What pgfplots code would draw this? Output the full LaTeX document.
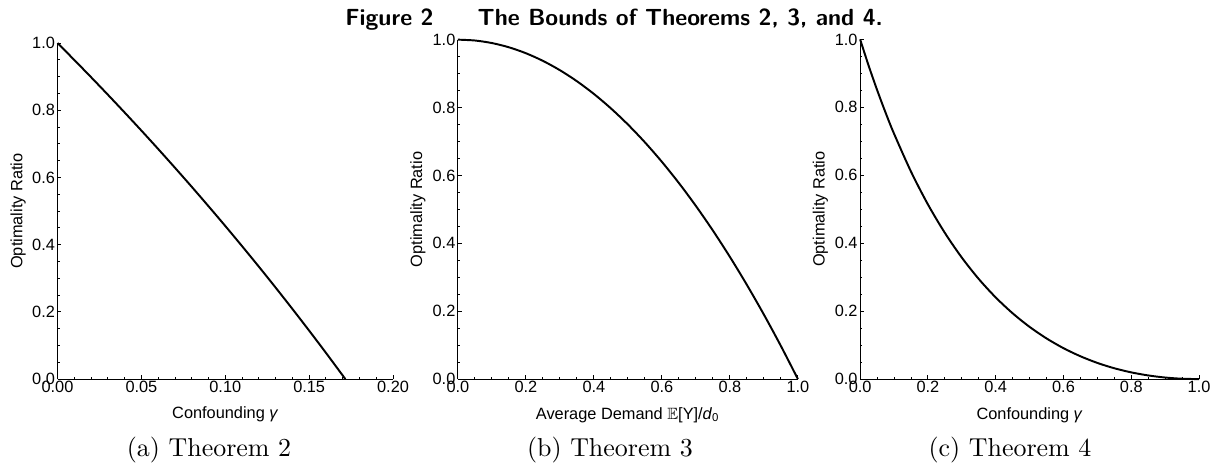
\documentclass[border=0pt]{standalone}
\usepackage{fontspec}
\usepackage{amssymb}
\usepackage{pgfplots}
\pgfplotsset{compat=1.18}
\newfontfamily\arial{Liberation Sans}

\pgfplotstableread{
x y
0 1
0.01 0.9496
0.02 0.8984
0.03 0.8463
0.04 0.7933
0.05 0.7395
0.06 0.6847
0.07 0.6289
0.08 0.5722
0.09 0.5144
0.10 0.4556
0.11 0.3956
0.12 0.3346
0.13 0.2723
0.14 0.2088
0.15 0.1441
0.16 0.0781
0.17 0.0107
0.1716 0
}\thmA

\pgfplotstableread{
x y
0 1
0.05 0.9975
0.10 0.99
0.15 0.9775
0.20 0.96
0.25 0.9375
0.30 0.91
0.35 0.8775
0.40 0.84
0.45 0.7975
0.50 0.75
0.55 0.6975
0.60 0.64
0.65 0.5775
0.70 0.51
0.75 0.4375
0.80 0.36
0.85 0.2775
0.90 0.19
0.95 0.0975
1.00 0
}\thmB

\pgfplotstableread{
x y
0 1
0.025 0.9229
0.05 0.8512
0.075 0.7845
0.10 0.7225
0.15 0.6109
0.20 0.5142
0.25 0.4304
0.30 0.3577
0.35 0.2947
0.40 0.2404
0.45 0.1937
0.50 0.1537
0.55 0.1197
0.60 0.0910
0.65 0.0672
0.70 0.0476
0.75 0.0319
0.80 0.0198
0.85 0.0108
0.90 0.0046
0.95 0.0011
1.00 0
}\thmC

\pgfplotsset{
  thm/.style={
    scale only axis,
    anchor=south west,
    clip=false,
    axis x line=bottom, axis y line=left,
    axis line style={-, line width=0.4pt},
    tick align=inside,
    major tick length=1.4pt, minor tick length=0.8pt,
    tick style={line width=0.35pt, black},
    ymin=0, ymax=1,
    ytick={0,0.2,0.4,0.6,0.8,1},
    minor y tick num=3,
    scaled ticks=false,
    /pgf/number format/assume math mode=true,
    tick label style={font=\arial\fontsize{6.3}{7}\selectfont},
    y tick label style={inner sep=0.8pt, /pgf/number format/.cd, fixed, fixed zerofill, precision=1, /tikz/.cd},
    x tick label style={inner sep=0.6pt},
    every axis x label/.style={at={(axis description cs:0.5,-0.106)}, anchor=center, font=\arial\fontsize{6.3}{7.5}\selectfont},
    every axis y label/.style={at={(axis description cs:-0.1175,0.5)}, anchor=center, rotate=90, font=\arial\fontsize{6.3}{7.5}\selectfont},
    ylabel={Optimality Ratio},
  },
  curve/.style={black, line width=0.75pt, smooth},
}

\begin{document}
\begin{tikzpicture}
\useasboundingbox (0,0) rectangle (469.7pt,178.2pt);

\begin{axis}[thm,
  at={(22.18pt,32.0pt)}, width=129.4pt, height=129.6pt,
  xmin=0, xmax=0.2,
  xtick={0,0.05,0.10,0.15,0.20}, minor x tick num=4,
  x tick label style={/pgf/number format/.cd, fixed, fixed zerofill, precision=2, /tikz/.cd},
  xlabel={Confounding \textit{γ}},
]
\addplot[curve] table[x=x,y=y]{\thmA};
\end{axis}

\begin{axis}[thm,
  at={(176.6pt,32.0pt)}, width=131.1pt, height=130.9pt,
  xmin=0, xmax=1,
  xtick={0,0.2,0.4,0.6,0.8,1}, minor x tick num=3,
  x tick label style={/pgf/number format/.cd, fixed, fixed zerofill, precision=1, /tikz/.cd},
  xlabel={Average Demand $\mathbb{E}$[Y]/\textit{d}\textsubscript{0}},
]
\addplot[curve] table[x=x,y=y]{\thmB};
\end{axis}

\begin{axis}[thm,
  at={(331.7pt,32.0pt)}, width=130.7pt, height=131.0pt,
  xmin=0, xmax=1,
  xtick={0,0.2,0.4,0.6,0.8,1}, minor x tick num=3,
  x tick label style={/pgf/number format/.cd, fixed, fixed zerofill, precision=1, /tikz/.cd},
  xlabel={Confounding \textit{γ}},
]
\addplot[curve] table[x=x,y=y]{\thmC};
\end{axis}

\node[anchor=base west, inner sep=0pt, font=\sffamily\bfseries\fontsize{9}{11}\selectfont] at (133.0pt,168.5pt) {Figure 2};
\node[anchor=base west, inner sep=0pt, font=\sffamily\bfseries\fontsize{9}{11}\selectfont] at (184.0pt,168.5pt) {The Bounds of Theorems 2, 3, and 4.};

\node[anchor=base, inner sep=0pt, font=\fontsize{10}{12}\selectfont] at (80.6pt,2.3pt) {(a) Theorem 2};
\node[anchor=base, inner sep=0pt, font=\fontsize{10}{12}\selectfont] at (235.2pt,2.3pt) {(b) Theorem 3};
\node[anchor=base, inner sep=0pt, font=\fontsize{10}{12}\selectfont] at (389.5pt,2.3pt) {(c) Theorem 4};
\end{tikzpicture}
\end{document}
